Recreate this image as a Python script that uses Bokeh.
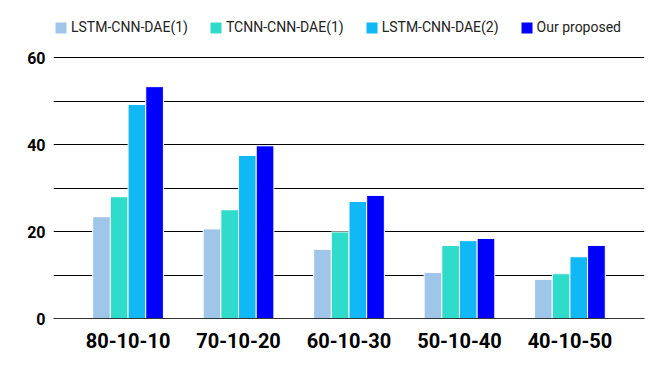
from bokeh.plotting import figure
from bokeh.models import FactorRange, FixedTicker, Legend, LegendItem
from bokeh.transform import dodge
from bokeh.embed import file_html
from bokeh.resources import INLINE
from bokeh.models import ColumnDataSource

groups = ["80-10-10", "70-10-20", "60-10-30", "50-10-40", "40-10-50"]
series_names = ["LSTM-CNN-DAE(1)", "TCNN-CNN-DAE(1)", "LSTM-CNN-DAE(2)", "Our proposed"]
lstm1 = [23.4, 20.6, 15.9, 10.6, 9.0]
tcnn1 = [28.0, 25.0, 19.9, 16.8, 10.3]
lstm2 = [49.2, 37.5, 26.9, 17.9, 14.2]
ours = [53.3, 39.7, 28.3, 18.4, 16.8]
y_ticks = [0, 20, 40, 60]

colors = ["#9fc5e8", "#2fdbca", "#10b9f5", "#0000ff"]
offsets = [-0.24, -0.08, 0.08, 0.24]

src = ColumnDataSource(dict(group=groups, s0=lstm1, s1=tcnn1, s2=lstm2, s3=ours))

p = figure(width=647, height=355, x_range=FactorRange(factors=groups, range_padding=0.07),
           y_range=(0, 69.66), output_backend="svg", toolbar_location=None,
           min_border_left=53, min_border_right=3, min_border_top=15, min_border_bottom=37)
p.outline_line_color = None

renderers = []
for i, key in enumerate(["s0", "s1", "s2", "s3"]):
    r = p.vbar(x=dodge("group", offsets[i], range=p.x_range), top=key, width=0.16, source=src,
               fill_color=colors[i], line_color="white", line_width=1)
    renderers.append(r)

p.xgrid.grid_line_color = None
p.ygrid.ticker = FixedTicker(ticks=[10, 20, 30, 40, 50, 60])
p.ygrid.grid_line_color = "black"
p.ygrid.grid_line_width = 1

p.yaxis.ticker = FixedTicker(ticks=y_ticks)
p.yaxis.axis_line_color = None
p.yaxis.major_tick_line_color = None
p.yaxis.minor_tick_line_color = None
p.yaxis.major_label_text_font = "Roboto"
p.yaxis.major_label_text_font_style = "bold"
p.yaxis.major_label_text_font_size = "16px"
p.yaxis.major_label_text_color = "black"
p.yaxis.major_label_standoff = 2

p.xaxis.axis_line_color = "#333333"
p.xaxis.axis_line_width = 1
p.xaxis.major_tick_line_color = None
p.xaxis.minor_tick_line_color = None
p.xaxis.major_label_text_font = "Roboto"
p.xaxis.major_label_text_font_style = "bold"
p.xaxis.major_label_text_font_size = "20px"
p.xaxis.major_label_text_color = "black"
p.xaxis.major_label_standoff = 8

legend = Legend(items=[LegendItem(label=n, renderers=[r]) for n, r in zip(series_names, renderers)],
                orientation="horizontal", location=(0, 283), margin=0,
                glyph_width=15, glyph_height=15, label_standoff=3, spacing=20, padding=0,
                label_height=15, label_text_font="Roboto", label_text_font_size="14px",
                label_text_color="#222222", border_line_color=None, background_fill_alpha=0)
p.add_layout(legend, "center")

open("out.html", "w").write(file_html(p, INLINE))
